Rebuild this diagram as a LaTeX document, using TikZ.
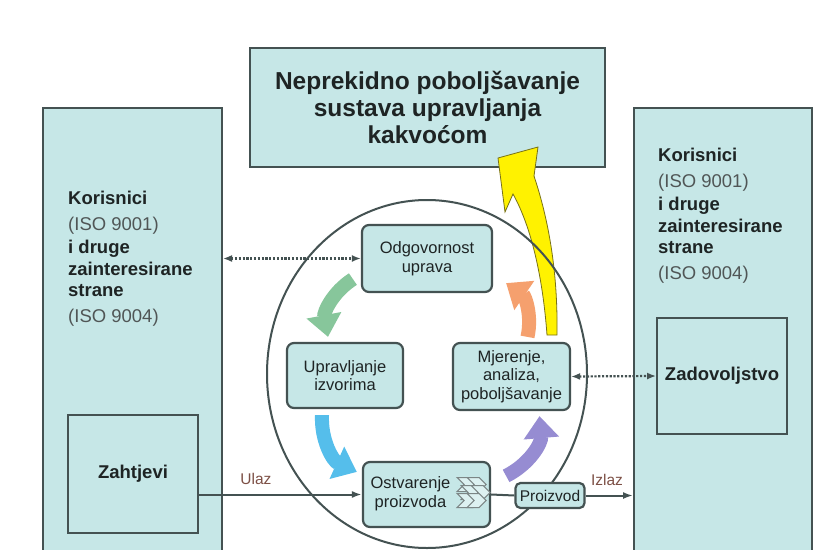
\documentclass[tikz,border=0pt]{standalone}
\usepackage{fontspec}
\setmainfont{Liberation Sans}
\usetikzlibrary{arrows.meta,positioning}

\definecolor{boxfill}{RGB}{198,231,231}
\definecolor{boxline}{RGB}{68,82,82}
\definecolor{txtdark}{RGB}{30,36,36}
\definecolor{isogray}{RGB}{80,86,86}
\definecolor{lblbrown}{RGB}{125,80,70}
\definecolor{arrgreen}{RGB}{135,198,155}
\definecolor{arrblue}{RGB}{85,190,235}
\definecolor{arrpurple}{RGB}{150,140,210}
\definecolor{arrorange}{RGB}{245,160,110}
\definecolor{arryellow}{RGB}{255,242,0}

\begin{document}
\begin{tikzpicture}[x=1pt,y=-1pt,
  every node/.style={inner sep=0pt},
  side/.style={draw=boxline,line width=2pt,fill=boxfill},
  inbox/.style={draw=boxline,line width=1.8pt,fill=boxfill},
  big/.style={font=\fontsize{18.5}{21.5}\selectfont\bfseries,text=txtdark},
  sidetxt/.style={align=left,font=\fontsize{18.5}{21.5}\selectfont,text=txtdark,anchor=north west},
  stage/.style={draw=boxline,line width=2.2pt,fill=boxfill,rounded corners=7pt,
                align=center,font=\fontsize{16.5}{18.5}\selectfont,text=txtdark},
  dotarr/.style={{Latex[length=9pt,width=7pt]}-{Latex[length=9pt,width=7pt]},
                 draw=boxline,line width=2.2pt,dash pattern=on 2.2pt off 1.6pt},
  flow/.style={draw=boxline,line width=2pt},
  flowarr/.style={flow,-{Latex[length=10pt,width=7pt]}},
  flowlbl/.style={font=\fontsize{15.5}{17}\selectfont,text=lblbrown},
  cyc/.style={line width=14pt,bend right=34,-{Triangle[length=22pt,width=34pt]}},
  icon/.style={draw=boxline!70,line width=1pt,fill=boxfill!60!white}
]
\clip (0,0) rectangle (830,549);
\path[use as bounding box,fill=white] (0,0) rectangle (830,549);
% ---------- side boxes ----------
\node[side,minimum width=179pt,minimum height=470pt] (users) at (132.5,343) {};
\node[side,minimum width=178pt,minimum height=470pt] (users2) at (723,343) {};
\node[sidetxt] (ktxt) at (68,191) {\textbf{Korisnici}\\[4pt]{\color{isogray}(ISO 9001)}\\[2pt]
  \textbf{i druge}\\\textbf{zainteresirane}\\\textbf{strane}\\[4pt]{\color{isogray}(ISO 9004)}};
\node[sidetxt] (ktxt2) at (658,148) {\textbf{Korisnici}\\[4pt]{\color{isogray}(ISO 9001)}\\[2pt]
  \textbf{i druge}\\\textbf{zainteresirane}\\\textbf{strane}\\[4pt]{\color{isogray}(ISO 9004)}};
\node[inbox,big,minimum width=130pt,minimum height=118pt] (req) at (133,474) {Zahtjevi};
\node[inbox,big,minimum width=130pt,minimum height=116pt] (sat) at (722,376) {Zadovoljstvo};
% ---------- top box ----------
\node[side,minimum width=355pt,minimum height=119pt,align=center,
      font=\fontsize{24.5}{27}\selectfont\bfseries,text=txtdark] (cip) at (427.5,107.5)
  {Neprekidno poboljšavanje\\sustava upravljanja\\kakvoćom};
\filldraw[fill=arryellow,draw=olive!80!black,line width=0.8pt]
  (547,335) .. controls (543,280) and (532,228) .. (513,194) -- (505,212) -- (498,158)
  -- (538,147) -- (534,176) .. controls (548,218) and (558,270) .. (557,335) -- cycle;
% ---------- process circle ----------
\draw[boxline,line width=2pt] (427,374) ellipse [x radius=160, y radius=174];
\node[stage,minimum width=130pt,minimum height=67pt] (odg) at (427,258.5) {Odgovornost\\uprava};
\node[stage,minimum width=116pt,minimum height=65pt] (upr) at (345,375.5) {Upravljanje\\izvorima};
\node[stage,minimum width=117pt,minimum height=67pt] (mjer) at (511.5,376.5) {Mjerenje,\\analiza,\\poboljšavanje};
\node[stage,minimum width=127pt,minimum height=65pt] (ost) at (426.5,494.5)
  {\begin{tabular}{@{}c@{}}Ostvarenje\\proizvoda\end{tabular}\hspace{32pt}};
\node[stage,rounded corners=5pt,minimum width=69pt,minimum height=25pt,
      font=\fontsize{15.5}{17}\selectfont] (prod) at (550,495.5) {Proizvod};
\foreach \dy/\dx in {0/2,8/6,16/2}{
  \draw[icon] ([shift={(-36+\dx,-17+\dy)}]ost.east) -- ++(16,0) -- ++(7,7) -- ++(-7,7)
    -- ++(-16,0) -- ++(7,-7) -- cycle;
  \draw[icon] ([shift={(-26+\dx,-17+\dy)}]ost.east) -- ++(12,0) -- ++(7,7) -- ++(-7,7)
    -- ++(-12,0) -- ++(7,-7) -- cycle;
}
% ---------- cycle arrows ----------
\draw[cyc,arrgreen] ([shift={(-8,-14)}]odg.south west) to ([shift={(-17,-5)}]upr.north);
\draw[cyc,arrblue] ([shift={(-23,6)}]upr.south) to ([shift={(-5,11)}]ost.north west);
\draw[cyc,arrpurple] ([shift={(15,15)}]ost.north east) to ([shift={(28,5)}]mjer.south);
\draw[cyc,arrorange] ([shift={(16,-5)}]mjer.north) to ([shift={(13,-10)}]odg.south east);
% ---------- connectors ----------
\draw[dotarr] (users.east|-odg.west) -- (odg.west);
\draw[dotarr] (mjer.east) -- (sat.west);
\draw[flowarr] (req.east|-ost.west) -- node[flowlbl,above=9pt,pos=0.35] {Ulaz} (ost.west);
\draw[flow] (ost.east) -- (prod.west);
\draw[flowarr] (prod.east) -- node[flowlbl,above=9pt,pos=0.45] {Izlaz} (users2.west|-prod.east);
\end{tikzpicture}
\end{document}
